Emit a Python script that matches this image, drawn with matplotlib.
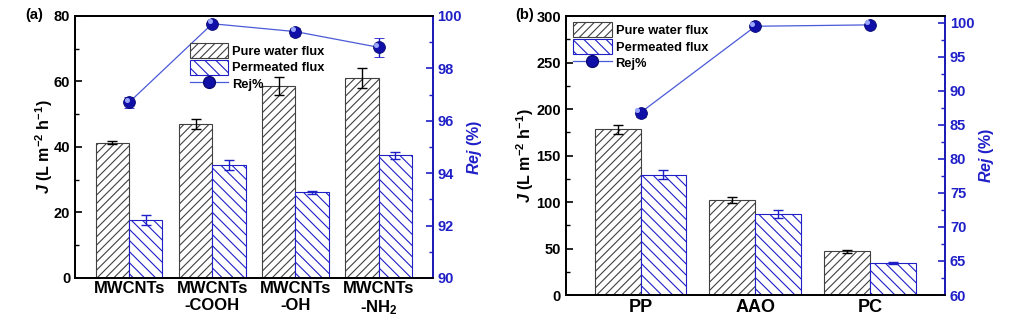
import numpy as np
import matplotlib.pyplot as plt
from matplotlib.lines import Line2D
from matplotlib.patches import Patch

plt.rcParams['font.family'] = ['Liberation Sans', 'DejaVu Sans']
plt.rcParams['font.weight'] = 'bold'
plt.rcParams['mathtext.fontset'] = 'custom'
plt.rcParams['mathtext.rm'] = 'Liberation Sans:bold'
plt.rcParams['mathtext.it'] = 'Liberation Sans:italic:bold'
plt.rcParams['mathtext.bf'] = 'Liberation Sans:bold'
plt.rcParams['hatch.linewidth'] = 0.8

# (a) functionalised MWCNTs
cnt_labels = ['MWCNTs', 'MWCNTs\n-COOH', 'MWCNTs\n-OH', 'MWCNTs\n-NH$_2$']
cnt_pure = [41.3, 47.0, 58.5, 61.0]
cnt_pure_err = [0.5, 1.5, 2.7, 3.0]
cnt_perm = [17.7, 34.5, 26.2, 37.4]
cnt_perm_err = [1.5, 1.5, 0.5, 1.0]
cnt_rej = [96.7, 99.7, 99.4, 98.8]
cnt_rej_err = [0.2, 0.05, 0.15, 0.35]

# (b) substrate membranes
sub_labels = ['PP', 'AAO', 'PC']
sub_pure = [178.0, 102.0, 47.0]
sub_pure_err = [5.0, 3.0, 1.5]
sub_perm = [129.5, 87.0, 34.0]
sub_perm_err = [4.5, 4.0, 1.0]
sub_rej = [86.8, 99.5, 99.7]
sub_rej_err = [0.7, 0.2, 0.1]

BLUE = '#1f1fc8'
LINE = '#4a5ad8'
MARK = '#1010a8'
GRAY = '#404040'
H_PURE = '////'
H_PERM = '\\\\\\'


def panel(ax, labels, pure, pure_err, perm, perm_err, rej, rej_err,
          ylim, yticks, rlim, rticks, rminor, xl_size, xl_pad, lpad):
    x = np.arange(len(labels))
    w = 0.4
    ax.bar(x - w / 2, pure, w, color='white', edgecolor=GRAY, hatch=H_PURE,
           linewidth=0.8, zorder=2)
    ax.bar(x + w / 2, perm, w, color='white', edgecolor=BLUE, hatch=H_PERM,
           linewidth=0.8, zorder=2)
    ax.errorbar(x - w / 2, pure, yerr=pure_err, fmt='none', ecolor='black',
                elinewidth=1, capsize=3.5, capthick=1, zorder=3)
    ax.errorbar(x + w / 2, perm, yerr=perm_err, fmt='none', ecolor=BLUE,
                elinewidth=1, capsize=3.5, capthick=1, zorder=3)
    ax.set_xlim(-0.65, len(labels) - 0.35)
    ax.set_ylim(*ylim)
    ax.set_yticks(yticks)
    ax.set_yticks(np.arange(ylim[0], ylim[1] + 1e-9, (yticks[1] - yticks[0]) / 2), minor=True)
    ax.set_xticks(x)
    ax.set_xticklabels(labels, fontsize=xl_size, fontweight='bold')
    ax.tick_params(axis='x', length=0, pad=xl_pad)
    ax.tick_params(axis='y', which='major', direction='in', length=5, width=1.2,
                   labelsize=10.5)
    ax.tick_params(axis='y', which='minor', direction='in', length=3, width=1.0)
    ax.set_ylabel('$J$ (L m$^{-2}$ h$^{-1}$)', fontsize=11.5, fontweight='bold',
                  labelpad=lpad)
    for s in ax.spines.values():
        s.set_linewidth(1.3)

    ax2 = ax.twinx()
    ax2.errorbar(x, rej, yerr=rej_err, color=LINE, lw=0.9, marker='o', ms=8.5,
                 mfc=MARK, mec='#0a0a70', mew=0.6, ecolor=BLUE, elinewidth=1,
                 capsize=3.5, capthick=1, zorder=4)
    # small highlight on each marker
    ax2.plot(x - 0.03, np.array(rej) + (rlim[1] - rlim[0]) * 0.009, 'o', ms=2.6,
             color='#9aa6ff', zorder=5)
    ax2.set_ylim(*rlim)
    ax2.set_yticks(rticks)
    ax2.set_yticks(rminor, minor=True)
    ax2.tick_params(axis='y', which='major', direction='in', length=5, width=1.2,
                    colors=BLUE, labelsize=10.5)
    ax2.tick_params(axis='y', which='minor', direction='in', length=3, width=1.0,
                    colors=BLUE)
    for t in ax2.get_yticklabels():
        t.set_fontweight('bold')
    ax2.spines['right'].set_color(BLUE)
    for s in ax2.spines.values():
        s.set_linewidth(1.3)
    ax2.set_ylabel('$Rej$ (%)', fontsize=11.5, fontweight='bold', color=BLUE,
                   labelpad=2)
    for t in ax.get_yticklabels():
        t.set_fontweight('bold')

    handles = [Patch(facecolor='white', edgecolor=GRAY, hatch=H_PURE, lw=0.8),
               Patch(facecolor='white', edgecolor=BLUE, hatch=H_PERM, lw=0.8),
               Line2D([], [], color=LINE, lw=0.9, marker='o', ms=8.5, mfc=MARK,
                      mec='#0a0a70')]
    return ax2, handles


fig = plt.figure(figsize=(10.25, 3.24), dpi=100)
axa = fig.add_axes([0.0732, 0.142, 0.349, 0.809])
axb = fig.add_axes([0.552, 0.0895, 0.370, 0.861])

leg_kw = dict(frameon=False, fontsize=9.3, handlelength=3.0, handleheight=1.4,
              labelspacing=0.12, handletextpad=0.3, borderpad=0.2)

a2, h = panel(axa, cnt_labels, cnt_pure, cnt_pure_err, cnt_perm, cnt_perm_err,
              cnt_rej, cnt_rej_err, (0, 80), [0, 20, 40, 60, 80], (90, 100),
              [90, 92, 94, 96, 98, 100], np.arange(90, 100.5, 1), 12, 2, -1)
a2.legend(h, ['Pure water flux', 'Permeated flux', 'Rej%'], loc='upper left',
          bbox_to_anchor=(0.295, 0.93), **leg_kw)

b2, h = panel(axb, sub_labels, sub_pure, sub_pure_err, sub_perm, sub_perm_err,
              sub_rej, sub_rej_err, (0, 300), [0, 50, 100, 150, 200, 250, 300],
              (60, 101), list(range(60, 101, 5)), np.arange(60, 101, 2.5), 13, 3, 0)
b2.legend(h, ['Pure water flux', 'Permeated flux', 'Rej%'], loc='upper left',
          bbox_to_anchor=(-0.005, 1.01), **leg_kw)

fig.text(0.025, 0.955, '(a)', fontsize=10.5, fontweight='bold', va='center')
fig.text(0.503, 0.955, '(b)', fontsize=10.5, fontweight='bold', va='center')

fig.savefig('out.png', dpi=100)
